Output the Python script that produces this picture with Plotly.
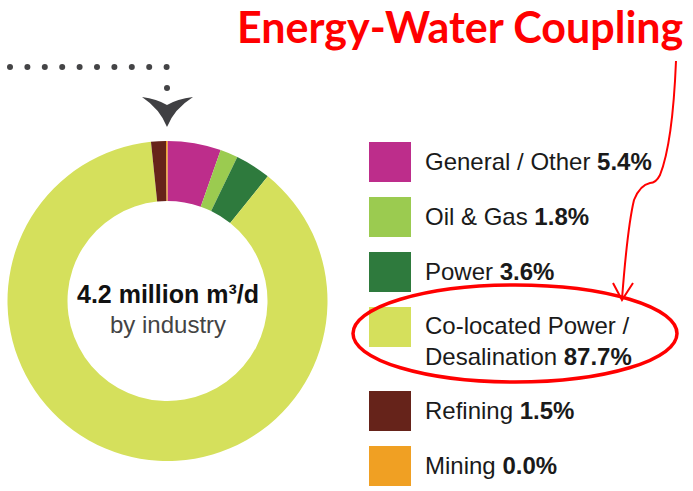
import plotly.graph_objects as go

# ---- data ----
categories = ["General / Other", "Oil & Gas", "Power",
              "Co-located Power /<br>Desalination", "Refining", "Mining"]
shares = [5.4, 1.8, 3.6, 87.7, 1.5, 0.15]          # visible wedge sizes (%)
share_labels = ["5.4%", "1.8%", "3.6%", "87.7%", "1.5%", "0.0%"]
colors = ["#BD2D8B", "#9BCB50", "#2E7A3D", "#D5E05C", "#66231A", "#F0A023"]
center_title = "4.2 million m³/d"
center_sub = "by industry"
headline = "Energy-Water Coupling"

W, H = 693, 491
cx, cy, R = 167.5, 301.0, 160.0

fig = go.Figure()

fig.add_trace(go.Pie(
    labels=[c.replace("<br>", " ") for c in categories],
    values=shares,
    marker=dict(colors=colors, line=dict(width=0)),
    hole=0.625,
    sort=False,
    direction="clockwise",
    rotation=0,
    textinfo="none",
    showlegend=False,
    domain=dict(x=[(cx - R) / W, (cx + R) / W],
                y=[(H - cy - R) / H, (H - cy + R) / H]),
))

# dotted leader line (decoration)
dot_x = [10 + 17.4 * i for i in range(10)] + [167]
dot_y = [67] * 10 + [88]
fig.add_trace(go.Scatter(x=dot_x, y=dot_y, mode="markers",
                         marker=dict(size=6, color="#444446"),
                         showlegend=False, hoverinfo="skip"))

shapes = []
annotations = []

# chevron
shapes.append(dict(type="path", xref="x", yref="y",
                   path="M 142,97 Q 157,99 167,105 Q 177,99 193,97 Q 174,109 167,127 Q 160,109 142,97 Z",
                   fillcolor="#404043", line=dict(width=0)))

# center text
annotations.append(dict(x=cx, y=294, xref="x", yref="y", text="<b>" + center_title + "</b>",
                        showarrow=False, xanchor="center", yanchor="middle",
                        font=dict(family="Liberation Sans, Arial", size=25, color="#111111")))
annotations.append(dict(x=cx, y=324, xref="x", yref="y", text=center_sub,
                        showarrow=False, xanchor="center", yanchor="middle",
                        font=dict(family="Liberation Sans, Arial", size=24, color="#444444")))

# legend
y = 142
for cat, lab, col in zip(categories, share_labels, colors):
    nlines = cat.count("<br>") + 1
    shapes.append(dict(type="rect", xref="x", yref="y", x0=369, x1=411, y0=y, y1=y + 40,
                       fillcolor=col, line=dict(width=0)))
    annotations.append(dict(x=423, y=y + 19 + 15 * (nlines - 1), xref="x", yref="y",
                            text=cat + " <b>" + lab + "</b>",
                            showarrow=False, xanchor="left", yanchor="middle", align="left",
                            font=dict(family="Liberation Sans, Arial", size=24, color="#1a1a1a")))
    y += 55 + 29 * (nlines - 1)

# headline
annotations.append(dict(x=236, y=0, xref="x", yref="y", text="<b>" + headline + "</b>",
                        showarrow=False, xanchor="left", yanchor="top", borderpad=0,
                        font=dict(family="Lato", size=43, color="#FF0000")))

# red ellipse and hand-drawn arrow
shapes.append(dict(type="circle", xref="x", yref="y", x0=353, x1=677, y0=285, y1=382,
                   line=dict(color="#FF0000", width=3.5)))
shapes.append(dict(type="path", xref="x", yref="y",
                   path="M 676,61 C 674,110 670,150 660,175 Q 656,183 650,183 Q 640,185 634,200 C 628,225 625,260 622,299",
                   line=dict(color="#FF0000", width=2)))
shapes.append(dict(type="path", xref="x", yref="y",
                   path="M 613,283 L 622,300 L 633,283",
                   line=dict(color="#FF0000", width=2)))

fig.update_layout(
    width=W, height=H,
    margin=dict(l=0, r=0, t=0, b=0),
    paper_bgcolor="white", plot_bgcolor="rgba(0,0,0,0)",
    xaxis=dict(range=[0, W], visible=False, fixedrange=True),
    yaxis=dict(range=[H, 0], visible=False, fixedrange=True),
    shapes=shapes, annotations=annotations,
    showlegend=False,
)

fig.write_html("out.html",
               config={"displayModeBar": False},
               post_script="document.body.style.margin='0';document.body.style.overflow='hidden';")
